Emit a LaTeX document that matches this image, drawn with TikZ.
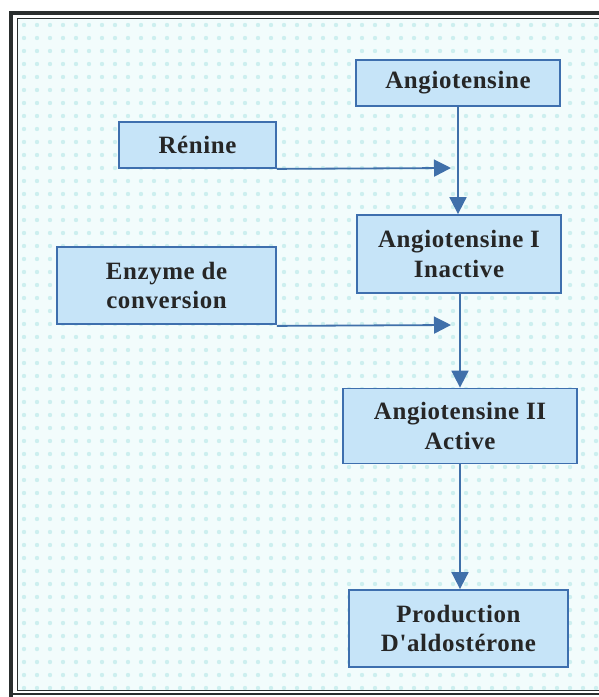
\documentclass[tikz,border=0pt]{standalone}
\usepackage{fontspec}
\setmainfont{Liberation Serif}
\newfontfamily\boxfont[LetterSpace=2.5]{Liberation Serif}
\usetikzlibrary{arrows.meta}
\definecolor{bgcyan}{HTML}{F2FCFC}
\definecolor{dotcyan}{HTML}{CDEFEF}
\definecolor{boxfill}{HTML}{C6E4F8}
\definecolor{boxline}{HTML}{3E6FAE}
\definecolor{arrowblue}{HTML}{4070AA}
\definecolor{frame}{HTML}{2A2E2E}
\tikzset{
  stepbox/.style={draw=boxline, line width=1.8bp, fill=boxfill, align=center,
    inner sep=0pt, font=\boxfont\fontsize{25}{30}\selectfont\bfseries, text=black!85},
  flow/.style={draw=arrowblue, line width=1.8bp, -{Triangle[length=17bp,width=17bp]}},
}
\begin{document}
\begin{tikzpicture}[x=1bp,y=-1bp]
\useasboundingbox (0,0) rectangle (599,697);
\fill[white] (0,0) rectangle (599,697);
% background
\fill[bgcyan] (17,18) rectangle (599,690);
\foreach \i in {0,...,44}{
  \foreach \j in {0,...,51}{
    \fill[dotcyan] (24+13*\i,25+13*\j) circle (2.2bp);
  }
}
% frame
\draw[frame, line width=4bp] (11,699) -- (11,13.5) -- (601,13.5);
\draw[frame, line width=1bp] (17,690) -- (17,18.5) -- (601,18.5);
\draw[frame, line width=1bp] (17,690) -- (601,690);
\draw[frame, line width=1.6bp] (9,694) -- (601,694);
% boxes
\node[stepbox, minimum width=204bp, minimum height=46bp] (ang) at (458,83) {Angiotensine};
\node[stepbox, minimum width=157bp, minimum height=46bp] (ren) at (197.5,145) {Rénine};
\node[stepbox, minimum width=204bp, minimum height=78bp] (ang1) at (459,254) {Angiotensine I\\Inactive};
\node[stepbox, minimum width=219bp, minimum height=77bp] (enz) at (166.5,285.5) {Enzyme de\\conversion};
\node[stepbox, minimum width=234bp, minimum height=75bp] (ang2) at (460,426) {Angiotensine II\\Active};
\node[stepbox, minimum width=219bp, minimum height=77bp] (prod) at (458.5,628.5) {Production\\D'aldostérone};
% connectors
\coordinate (t1) at (451,168);
\coordinate (t2) at (451,325);
\draw[flow] (ang.south -| 458,0) -- (ang1.north -| 458,0);
\draw[flow] (ren.south east) -- (t1);
\draw[flow] (ang1.south -| 460,0) -- (ang2.north -| 460,0);
\draw[flow] (enz.south east) ++(0,1) -- (t2);
\draw[flow] (ang2.south -| 460,0) -- (prod.north -| 460,0);
\end{tikzpicture}
\end{document}
